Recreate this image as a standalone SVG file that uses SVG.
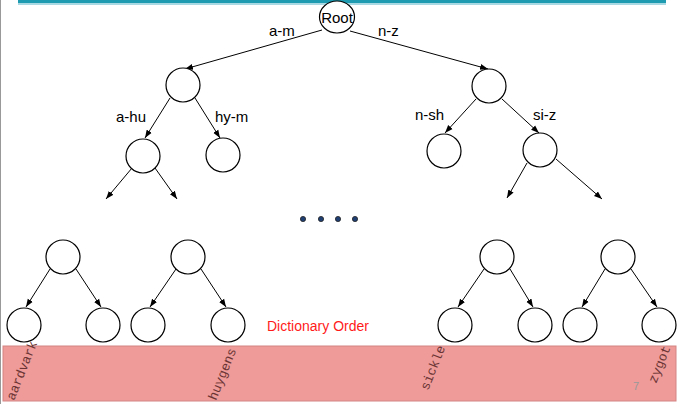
<svg xmlns="http://www.w3.org/2000/svg" width="678" height="404" viewBox="0 0 678 404">
<style>
.n{fill:#fff;stroke:#000;stroke-width:1.2}
.e{stroke:#000;stroke-width:1;fill:none;marker-end:url(#ah)}
.lbl{font-family:"Liberation Sans",Arial,sans-serif;font-size:15px;fill:#000}
.w{font-family:"Liberation Mono","Courier New",monospace;font-size:13px;fill:#6b3434}
</style>
<defs>
<marker id="ah" markerUnits="userSpaceOnUse" markerWidth="8" markerHeight="8" viewBox="0 0 8 8" refX="8" refY="4" orient="auto">
<path d="M0,1 L8,4 L0,7 Z" fill="#000"/>
</marker>
</defs>
<rect x="0" y="0" width="678" height="404" fill="#fff"/>
<line x1="0.5" y1="0" x2="0.5" y2="404" stroke="#999" stroke-width="1"/>
<rect x="18" y="0" width="648" height="3" fill="#1e9bb0"/>
<rect x="18" y="3" width="648" height="2" fill="#a9d9e2"/>
<rect x="3" y="346" width="673" height="55" fill="#ee9b99" stroke="#d38482" stroke-width="1"/>
<g id="connectors">
<line class="e" x1="322" y1="30" x2="185" y2="69"/>
<line class="e" x1="350" y1="31" x2="488" y2="69"/>
<line class="e" x1="170" y1="98" x2="145" y2="138"/>
<line class="e" x1="195" y1="98" x2="220" y2="138"/>
<line class="e" x1="476" y1="99" x2="445" y2="133"/>
<line class="e" x1="502" y1="99" x2="539" y2="133"/>
<line class="e" x1="132" y1="168" x2="106" y2="199"/>
<line class="e" x1="155" y1="168" x2="177" y2="199"/>
<line class="e" x1="527" y1="163" x2="507" y2="198"/>
<line class="e" x1="556" y1="159" x2="602" y2="199"/>
<line class="e" x1="50" y1="269" x2="26" y2="307"/>
<line class="e" x1="76" y1="269" x2="101" y2="307"/>
<line class="e" x1="176" y1="269" x2="150" y2="307"/>
<line class="e" x1="201" y1="269" x2="226" y2="307"/>
<line class="e" x1="484" y1="269" x2="458" y2="307"/>
<line class="e" x1="510" y1="269" x2="533" y2="307"/>
<line class="e" x1="605" y1="269" x2="582" y2="307"/>
<line class="e" x1="631" y1="269" x2="657" y2="307"/>
</g>
<g id="root"><ellipse class="n" cx="337" cy="17" rx="17.5" ry="16"/><text class="lbl" x="337" y="23" text-anchor="middle">Root</text></g>
<g id="lbl-top"><text class="lbl" x="269" y="36">a-m</text><text class="lbl" x="378" y="36">n-z</text></g>
<g id="n-am"><circle class="n" cx="183" cy="85" r="17"/></g>
<g id="n-nz"><circle class="n" cx="489" cy="86" r="17"/></g>
<g id="lbl-mid"><text class="lbl" x="116" y="122">a-hu</text><text class="lbl" x="215" y="122">hy-m</text><text class="lbl" x="415" y="120">n-sh</text><text class="lbl" x="533" y="120">si-z</text></g>
<g id="n-ahu"><circle class="n" cx="143" cy="156" r="17"/></g>
<g id="n-hym"><circle class="n" cx="223" cy="155" r="17"/></g>
<g id="n-nsh"><circle class="n" cx="444" cy="151" r="17"/></g>
<g id="n-siz"><circle class="n" cx="540" cy="150" r="17"/></g>
<g id="dots" fill="#1f3f73" stroke="#222" stroke-width="0.8">
<circle cx="303" cy="219" r="2.6"/><circle cx="321" cy="219" r="2.6"/><circle cx="338" cy="219" r="2.6"/><circle cx="355" cy="219" r="2.6"/>
</g>
<g id="sub1"><circle class="n" cx="63" cy="257" r="17"/><circle class="n" cx="24" cy="325" r="17"/><circle class="n" cx="103" cy="325" r="17"/></g>
<g id="sub2"><circle class="n" cx="188" cy="257" r="17"/><circle class="n" cx="148" cy="325" r="17"/><circle class="n" cx="228" cy="325" r="17"/></g>
<g id="sub3"><circle class="n" cx="497" cy="257" r="17"/><circle class="n" cx="455" cy="325" r="17"/><circle class="n" cx="535" cy="325" r="17"/></g>
<g id="sub4"><circle class="n" cx="618" cy="257" r="17"/><circle class="n" cx="580" cy="325" r="17"/><circle class="n" cx="659" cy="325" r="17"/></g>
<text x="267" y="331" font-family="'Liberation Sans',Arial,sans-serif" font-size="14" fill="#ff1a1a">Dictionary Order</text>
<g id="words">
<text class="w" transform="translate(14,401) rotate(-68)">aardvark</text>
<text class="w" transform="translate(216,401) rotate(-68)">huygens</text>
<text class="w" transform="translate(428,391) rotate(-68)">sickle</text>
<text class="w" transform="translate(656,384) rotate(-68)">zygot</text>
</g>
<text x="633" y="390" font-family="'Liberation Sans',Arial,sans-serif" font-size="11" fill="#999">7</text>
</svg>
